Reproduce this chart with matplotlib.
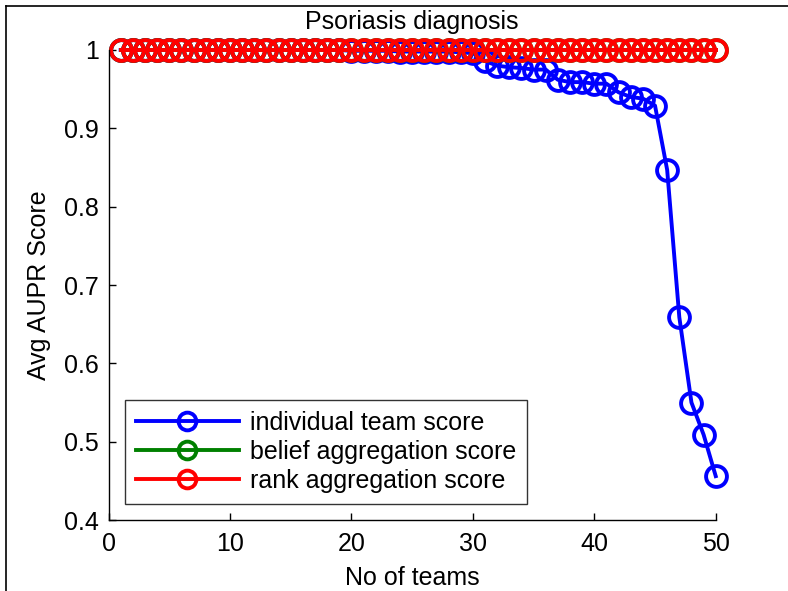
import matplotlib
matplotlib.use("Agg")
import matplotlib.pyplot as plt
from matplotlib.lines import Line2D

plt.rcParams["font.family"] = ["Liberation Sans", "DejaVu Sans"]

teams = list(range(1, 51))
individual = [1.0] * 19 + [0.999, 0.999, 0.999, 0.999, 0.998, 0.998, 0.998, 0.998, 0.998, 0.997, 0.996,
                           0.986, 0.980, 0.978, 0.977, 0.975, 0.975, 0.962, 0.959, 0.959, 0.957,
                           0.957, 0.946, 0.940, 0.938, 0.929, 0.847, 0.659, 0.550, 0.509, 0.456]
belief = [1.0] * 50
rank = [1.0] * 50

FS = 18

fig = plt.figure(figsize=(7.88, 5.91), dpi=100)
ax = fig.add_axes([0.1377, 0.1201, 0.7706, 0.7953])

style = dict(lw=2.8, marker="o", ms=15, mew=2.8, mfc="none", clip_on=False)
ax.plot(teams, individual, color="#0000ff", label="individual team score", **style)
ax.plot(teams, belief, color="#008000", label="belief aggregation score", **style)
ax.plot(teams, rank, color="#ff0000", label="rank aggregation score", **style)

ax.set_xlim(0, 50)
ax.set_ylim(0.4, 1.0)
ax.set_xticks(range(0, 51, 10))
ax.set_yticks([0.4, 0.5, 0.6, 0.7, 0.8, 0.9, 1.0])
ax.set_yticklabels(["0.4", "0.5", "0.6", "0.7", "0.8", "0.9", "1"])
ax.tick_params(direction="in", length=5, labelsize=FS, width=1)
ax.tick_params(axis="x", pad=8.5)
ax.tick_params(axis="y", pad=7)
ax.spines["top"].set_visible(False)
ax.spines["right"].set_visible(False)
for s in ("left", "bottom"):
    ax.spines[s].set_linewidth(1)

ax.set_xlabel("No of teams", fontsize=FS, labelpad=7)
ax.set_ylabel("Avg AUPR Score", fontsize=FS, labelpad=9)
ax.set_title("Psoriasis diagnosis", fontsize=FS, pad=15)

leg = ax.legend(loc="lower left", bbox_to_anchor=(0.027, 0.034), fontsize=FS,
                frameon=True, fancybox=False, edgecolor="black", borderpad=0.45,
                handlelength=4.1, handletextpad=0.45, labelspacing=0.2,
                borderaxespad=0, markerscale=0.85)
leg.get_frame().set_linewidth(1)

# figure frame (left and top edges visible)
fig.add_artist(Line2D([6 / 788, 6 / 788], [0, 1 - 6 / 591], color="black", lw=1.2,
                      transform=fig.transFigure))
fig.add_artist(Line2D([6 / 788, 1], [1 - 6 / 591, 1 - 6 / 591], color="black", lw=1.2,
                      transform=fig.transFigure))

fig.savefig("out.png", dpi=100)
